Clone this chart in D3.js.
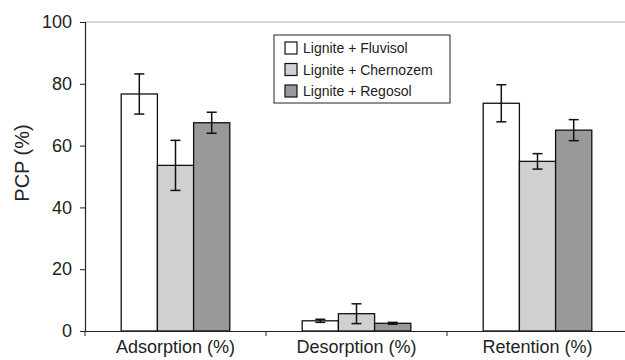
<!DOCTYPE html>
<html>
<head>
<meta charset="utf-8">
<script src="https://cdn.jsdelivr.net/npm/d3@7"></script>
<style>
  body { margin: 0; background: #fff; }
  text { font-family: "Liberation Sans", Arial, sans-serif; fill: #222; }
</style>
</head>
<body>
<div class="canvas"></div>
<script>
// data
const categories = ["Adsorption (%)", "Desorption (%)", "Retention (%)"];
const seriesNames = ["Lignite + Fluvisol", "Lignite + Chernozem", "Lignite + Regosol"];
const seriesColors = ["#ffffff", "#d0d0d0", "#999999"];
const fluvisol = [76.7, 3.3, 73.7];
const chernozem = [53.6, 5.6, 54.9];
const regosol = [67.4, 2.5, 65.0];
const fluvisolErr = [6.5, 0.5, 6.0];
const chernozemErr = [8.1, 3.2, 2.5];
const regosolErr = [3.4, 0.3, 3.4];
const yTicks = [0, 20, 40, 60, 80, 100];

const values = [fluvisol, chernozem, regosol];
const errors = [fluvisolErr, chernozemErr, regosolErr];

const width = 625, height = 360;
const margin = { top: 22, right: -3, bottom: 29, left: 85 };

const svg = d3.select(".canvas").append("svg")
  .attr("width", width).attr("height", height);

const x = d3.scaleBand()
  .domain(categories)
  .range([margin.left, width - margin.right])
  .paddingInner(0).paddingOuter(0);

const xs = d3.scaleBand()
  .domain(seriesNames)
  .range([x.bandwidth() / 5, x.bandwidth() * 4 / 5]);

const y = d3.scaleLinear()
  .domain([0, 100])
  .range([height - margin.bottom, margin.top]);

// top border line
svg.append("line")
  .attr("x1", margin.left).attr("x2", width)
  .attr("y1", y(100)).attr("y2", y(100))
  .attr("stroke", "#aaa").attr("stroke-width", 1.2);

// bars
const bars = [];
categories.forEach((c, ci) => {
  seriesNames.forEach((s, si) => {
    bars.push({ c, s, si, v: values[si][ci], e: errors[si][ci] });
  });
});

const g = svg.append("g");
g.selectAll("rect.bar").data(bars).enter().append("rect")
  .attr("class", "bar")
  .attr("x", d => x(d.c) + xs(d.s))
  .attr("y", d => y(d.v))
  .attr("width", xs.bandwidth())
  .attr("height", d => y(0) - y(d.v))
  .attr("fill", d => seriesColors[d.si])
  .attr("stroke", "#111").attr("stroke-width", 1.3);

// error bars
const eg = g.selectAll("g.err").data(bars).enter().append("g")
  .attr("transform", d => `translate(${x(d.c) + xs(d.s) + xs.bandwidth() / 2},0)`)
  .attr("stroke", "#111").attr("stroke-width", 1.5);
eg.append("line").attr("y1", d => y(d.v + d.e)).attr("y2", d => y(d.v - d.e));
eg.append("line").attr("x1", -5).attr("x2", 5)
  .attr("y1", d => y(d.v + d.e)).attr("y2", d => y(d.v + d.e));
eg.append("line").attr("x1", -5).attr("x2", 5)
  .attr("y1", d => y(d.v - d.e)).attr("y2", d => y(d.v - d.e));

// y axis
const yAxis = svg.append("g")
  .attr("transform", `translate(${margin.left},0)`)
  .call(d3.axisLeft(y).tickValues(yTicks).tickSize(5).tickPadding(8));
yAxis.select(".domain").attr("stroke", "#222").attr("stroke-width", 1.2);
yAxis.selectAll(".tick line").attr("stroke", "#222");
yAxis.selectAll(".tick text").style("font-size", "18px").attr("fill", "#222");

// x axis
const xAxis = svg.append("g")
  .attr("transform", `translate(0,${y(0)})`)
  .call(d3.axisBottom(x).tickSize(0).tickPadding(9));
xAxis.select(".domain").attr("stroke", "#222").attr("stroke-width", 1.2);
xAxis.selectAll(".tick text").style("font-size", "18px").attr("fill", "#222");
svg.append("g").selectAll("line").data(categories).enter().append("line")
  .attr("x1", d => x(d)).attr("x2", d => x(d))
  .attr("y1", y(0)).attr("y2", y(0) + 5)
  .attr("stroke", "#222");

// y label
svg.append("text")
  .attr("transform", "translate(29,163) rotate(-90)")
  .attr("text-anchor", "middle")
  .style("font-size", "20px")
  .text("PCP (%)");

// legend
const legend = svg.append("g").attr("transform", "translate(274,35)");
legend.append("rect")
  .attr("width", 176).attr("height", 68)
  .attr("fill", "#fff").attr("stroke", "#222").attr("stroke-width", 1);
const li = legend.selectAll("g.item").data(seriesNames).enter().append("g")
  .attr("transform", (d, i) => `translate(11,${7 + i * 21.5})`);
li.append("rect")
  .attr("width", 12).attr("height", 12)
  .attr("fill", (d, i) => seriesColors[i])
  .attr("stroke", "#111").attr("stroke-width", 1.2);
li.append("text")
  .attr("x", 18).attr("y", 11)
  .style("font-size", "14px")
  .text(d => d);
</script>
</body>
</html>
